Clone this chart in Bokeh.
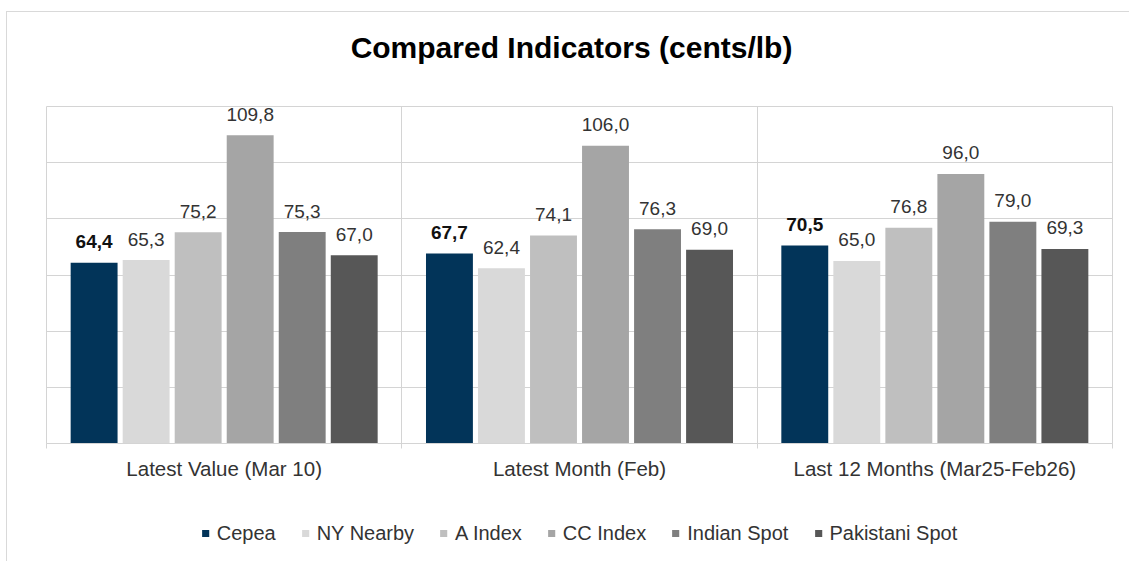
from bokeh.plotting import figure
from bokeh.layouts import column
from bokeh.models import ColumnDataSource, FixedTicker, Legend, LegendItem, Range1d, Label
from bokeh.core.properties import value
from bokeh.embed import file_html
from bokeh.resources import INLINE

# ---------------- data ----------------
groups = ["Latest Value (Mar 10)", "Latest Month (Feb)", "Last 12 Months (Mar25-Feb26)"]
series = ["Cepea", "NY Nearby", "A Index", "CC Index", "Indian Spot", "Pakistani Spot"]
cepea = [64.4, 67.7, 70.5]
ny_nearby = [65.3, 62.4, 65.0]
a_index = [75.2, 74.1, 76.8]
cc_index = [109.8, 106.0, 96.0]
indian_spot = [75.3, 76.3, 79.0]
pakistani_spot = [67.0, 69.0, 69.3]
y_ticks = [0, 20, 40, 60, 80, 100, 120]
title_text = "Compared Indicators (cents/lb)"

# ---------------- style ----------------
colors = ["#023459", "#d9d9d9", "#bfbfbf", "#a5a5a5", "#7f7f7f", "#575757"]
FONT = "Liberation Sans"
GRID = "#d4d4d4"
pitch = 0.1464
bar_w = 0.132
W = 1122
ML, MR = 39, 17

values = [cepea, ny_nearby, a_index, cc_index, indian_spot, pakistani_spot]


def blank(height, top=0, bottom=0):
    f = figure(width=W, height=height, x_range=Range1d(0, len(groups)), y_range=Range1d(0, height),
               output_backend="svg", toolbar_location=None,
               min_border_left=ML, min_border_right=MR, min_border_top=top, min_border_bottom=bottom)
    f.axis.visible = False
    f.grid.visible = False
    f.outline_line_color = None
    f.background_fill_color = "white"
    f.border_fill_color = "white"
    return f


# ---------- title strip ----------
TH = 92
tf = blank(TH)
tf.add_layout(Label(x=len(groups) / 2, y=TH - 35, x_offset=-8, text=title_text,
                    text_align="center", text_baseline="alphabetic", text_font=FONT,
                    text_font_size="30px", text_font_style="bold", text_color="#000000"))

# ---------- main chart ----------
p = figure(width=W, height=394, x_range=Range1d(0, len(groups)), y_range=Range1d(0, 120),
           output_backend="svg", toolbar_location=None,
           min_border_left=ML, min_border_right=MR, min_border_top=2, min_border_bottom=55)
p.outline_line_color = GRID
p.background_fill_color = "white"
p.border_fill_color = "white"

p.yaxis.visible = False
p.ygrid.ticker = FixedTicker(ticks=y_ticks)
p.ygrid.grid_line_color = GRID

centers = [i + 0.5 for i in range(len(groups))]
bounds = list(range(len(groups) + 1))
xt = FixedTicker(ticks=centers, minor_ticks=bounds)
p.xaxis.ticker = xt
p.xaxis.major_label_overrides = {c: g for c, g in zip(centers, groups)}
p.xaxis.major_tick_in = 0
p.xaxis.major_tick_out = 0
p.xaxis.minor_tick_in = 0
p.xaxis.minor_tick_out = 5
p.xaxis.minor_tick_line_color = GRID
p.xaxis.axis_line_color = GRID
p.xaxis.major_label_standoff = 8
p.xaxis.major_label_text_font = FONT
p.xaxis.major_label_text_font_size = "20.5px"
p.xaxis.major_label_text_color = "#333333"
p.xgrid.ticker = xt
p.xgrid.grid_line_color = None
p.xgrid.minor_grid_line_color = GRID

# ---------- legend strip ----------
lf = blank(63, top=7)

items = []
for s, (name, vals, col) in enumerate(zip(series, values, colors)):
    xs = [c + (s - (len(series) - 1) / 2) * pitch for c in centers]
    src = ColumnDataSource(dict(x=xs, top=vals, lab=[f"{v:.1f}".replace(".", ",") for v in vals]))
    p.vbar(x="x", top="top", bottom=0, width=bar_w, source=src, fill_color=col, line_color=None)
    p.text(x="x", y="top", text="lab", source=src, text_align="center", text_baseline="alphabetic",
           y_offset=-21, text_font=value(FONT), text_font_size="19px",
           text_font_style="bold" if s == 0 else "normal",
           text_color="#111111" if s == 0 else "#333333")
    lr = lf.vbar(x="x", top="top", bottom=0, width=bar_w, source=src, fill_color=col,
                 line_color=None, visible=False)
    items.append(LegendItem(label=name, renderers=[lr]))

legend = Legend(items=items, orientation="horizontal", location="center",
                glyph_width=9, glyph_height=9, label_standoff=7, spacing=25,
                padding=0, margin=0, border_line_color=None, background_fill_alpha=0,
                inactive_fill_alpha=0,
                label_text_font=FONT, label_text_font_size="20px", label_text_color="#333333")
lf.add_layout(legend, "center")

layout = column(tf, p, lf, spacing=0)
layout.margin = (11, 0, 0, 6)
layout.styles = {"border-top": "1px solid #d9d9d9", "border-left": "1px solid #d9d9d9"}

open("out.html", "w").write(file_html(layout, INLINE))
